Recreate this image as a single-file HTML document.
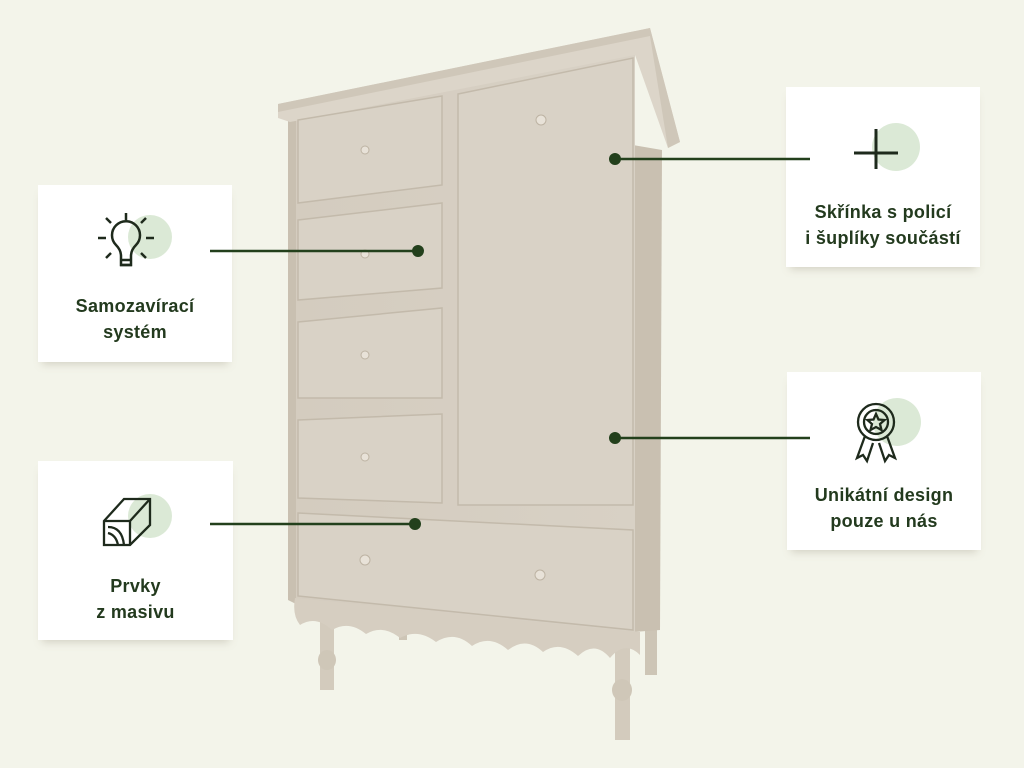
<!DOCTYPE html>
<html><head><meta charset="utf-8"><style>
body{margin:0;width:1024px;height:768px;background:#f3f4ea;overflow:hidden;position:relative;font-family:"Liberation Sans",sans-serif}
.card{position:absolute;background:#fff;box-shadow:0 6px 8px -4px rgba(150,140,120,.35);text-align:center;color:#233a1e;font-weight:bold;font-size:18px;line-height:26px;letter-spacing:0.3px}
.card .t{position:absolute;left:0;right:0}
svg{position:absolute;left:0;top:0}
#ov{z-index:5}
</style></head><body>
<svg width="1024" height="768" viewBox="0 0 1024 768">
<defs><linearGradient id="g" x1="0" x2="1"><stop offset="0" stop-color="#d4ccbf"/><stop offset="1" stop-color="#d8d1c5"/></linearGradient></defs>
<rect x="320" y="615" width="14" height="75" fill="#d3cbbd"/>
<ellipse cx="327" cy="660" rx="9" ry="10" fill="#cfc7b8"/>
<rect x="615" y="640" width="15" height="100" fill="#d3cbbd"/>
<ellipse cx="622" cy="690" rx="10" ry="11" fill="#cfc7b8"/>
<rect x="645" y="625" width="12" height="50" fill="#cdc5b6"/>
<rect x="399" y="620" width="8" height="20" fill="#cdc5b6"/>
<polygon points="633,145 662,150 660,630 633,632" fill="#c9c0b1"/>
<polygon points="288,120 298,120 298,605 288,600" fill="#c9c0b1"/>
<polygon points="296,118 635,50 635,632 296,600" fill="url(#g)"/>
<path d="M295,598 L640,632 L640,655 Q625,640 610,658 Q595,640 578,656 Q560,640 543,652 Q526,636 508,650 Q490,634 472,646 Q455,630 436,642 Q418,628 400,638 Q383,624 366,634 Q349,620 332,630 Q316,615 300,625 Q292,615 295,598Z" fill="#d6cec1"/>
<polygon points="278,104 650,28 680,142 668,148 635,55 290,122 278,118" fill="#dcd5c9"/>
<polygon points="278,112 650,36 668,148 680,142 650,28 278,104" fill="#cfc7b9"/>
<g fill="#d9d2c6" stroke="#c3baab" stroke-width="1.5">
<polygon points="298,120 442,96 442,185 298,203"/>
<polygon points="298,220 442,203 442,288 298,300"/>
<polygon points="298,322 442,308 442,398 298,398"/>
<polygon points="298,420 442,414 442,503 298,498"/>
<polygon points="458,94 633,58 633,505 458,505"/>
<polygon points="298,513 633,530 633,630 298,596"/>
</g>
<g fill="#e8e2d8" stroke="#bdb3a3">
<circle cx="365" cy="150" r="4"/><circle cx="365" cy="254" r="4"/><circle cx="365" cy="355" r="4"/><circle cx="365" cy="457" r="4"/><circle cx="541" cy="120" r="5"/><circle cx="365" cy="560" r="5"/><circle cx="540" cy="575" r="5"/>
</g>
</svg>
<div class="card" style="left:38px;top:185px;width:194px;height:177px">
<svg width="194" height="90" viewBox="0 0 194 90"><circle cx="112" cy="52" r="22" fill="#dbe9d6"/>
<g stroke="#1e2a1c" stroke-width="2.5" fill="none"><path d="M83,80 v-9 q0-6 -5-11 a14,14 0 1 1 20,0 q-5 5-5 11 v9z"/><line x1="82" y1="75" x2="94" y2="75"/><line x1="82" y1="80" x2="94" y2="80"/><line x1="88" y1="28" x2="88" y2="35"/><line x1="60" y1="53" x2="68" y2="53"/><line x1="108" y1="53" x2="116" y2="53"/><line x1="68" y1="33" x2="73" y2="38"/><line x1="108" y1="33" x2="103" y2="38"/><line x1="68" y1="73" x2="73" y2="68"/><line x1="108" y1="73" x2="103" y2="68"/></g></svg>
<div class="t" style="top:108px">Samozavírací<br>systém</div></div>
<div class="card" style="left:38px;top:461px;width:195px;height:179px">
<svg width="195" height="90" viewBox="0 0 195 90"><circle cx="112" cy="55" r="22" fill="#dbe9d6"/>
<g stroke="#1e2a1c" stroke-width="2.3" fill="none"><path d="M66,60 l20,-22 h26 l0,26 l-20,20 h-26z"/><path d="M66,60 h26 v24"/><path d="M92,60 l20,-22"/><path d="M70,66 q14,0 16,18 M70,72 q8,2 10,12"/></g></svg>
<div class="t" style="top:112px">Prvky<br>z masivu</div></div>
<div class="card" style="left:786px;top:87px;width:194px;height:180px">
<svg width="194" height="90" viewBox="0 0 194 90"><circle cx="110" cy="60" r="24" fill="#dbe9d6"/>
<g stroke="#1e2a1c" stroke-width="3"><line x1="90" y1="42" x2="90" y2="82"/><line x1="68" y1="66" x2="112" y2="66"/></g></svg>
<div class="t" style="top:112px">Skřínka s policí<br>i šuplíky součástí</div></div>
<div class="card" style="left:787px;top:372px;width:194px;height:178px">
<svg width="194" height="95" viewBox="0 0 194 95"><circle cx="110" cy="50" r="24" fill="#dbe9d6"/>
<g stroke="#1e2a1c" stroke-width="2.3" fill="none"><circle cx="89" cy="50" r="18"/><circle cx="89" cy="50" r="12"/><path d="M89,42 l2.5,5.5 6,.5 -4.5,4 1.5,6 -5.5,-3 -5.5,3 1.5,-6 -4.5,-4 6,-.5z"/><path d="M78,64 l-8,22 6,-3 4,6 6,-18 M100,64 l8,22 -6,-3 -4,6 -6,-18"/></g></svg>
<div class="t" style="top:110px">Unikátní design<br>pouze u nás</div></div>
<svg id="ov" width="1024" height="768" viewBox="0 0 1024 768">
<g stroke="#23401c" stroke-width="2.5">
<line x1="210" y1="251" x2="418" y2="251"/><line x1="210" y1="524" x2="415" y2="524"/>
<line x1="615" y1="159" x2="810" y2="159"/><line x1="615" y1="438" x2="810" y2="438"/>
</g>
<g fill="#23401c"><circle cx="418" cy="251" r="6"/><circle cx="415" cy="524" r="6"/><circle cx="615" cy="159" r="6"/><circle cx="615" cy="438" r="6"/></g>
</svg>
</body></html>
